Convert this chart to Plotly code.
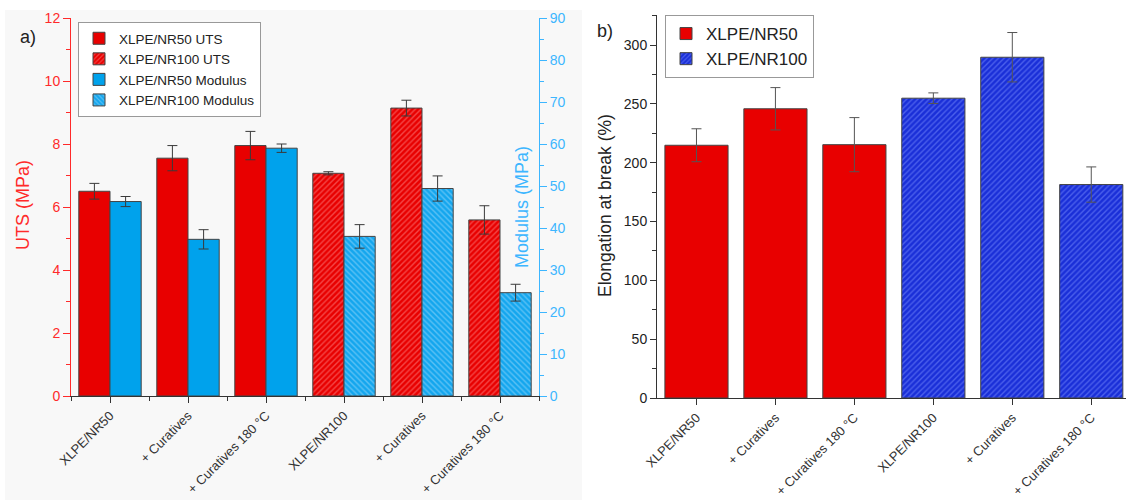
import plotly.graph_objects as go

# ---------------- data ----------------
categories = ["XLPE/NR50", "+ Curatives", "+ Curatives 180 °C",
              "XLPE/NR100", "+ Curatives", "+ Curatives 180 °C"]

uts_nr50 = [6.5, 7.55, 7.95]
uts_nr50_err = [0.25, 0.4, 0.45]
uts_nr100 = [7.07, 9.14, 5.59]
uts_nr100_err = [0.05, 0.25, 0.45]

mod_nr50 = [46.3, 37.3, 59.0]
mod_nr50_err = [1.2, 2.3, 1.0]
mod_nr100 = [38.0, 49.4, 24.6]
mod_nr100_err = [2.8, 3.0, 2.0]

elong_nr50 = [214.8, 245.8, 215.3]
elong_nr50_err = [14.0, 18.0, 23.0]
elong_nr100 = [254.8, 289.6, 181.4]
elong_nr100_err = [4.5, 21.0, 15.0]

pos = list(range(len(categories)))
pos50 = pos[:3]
pos100 = pos[3:]

FONT = "Liberation Sans, Arial, sans-serif"
RED = "#e80000"
RED_AX = "#ff2a2a"
BLUE = "#00a2ec"
BLUE_AX = "#3db6ff"
DBLUE = "#1a2fd8"
EDGE = "#444444"
W, H = 1126, 500


def err(arr, color="#3a3a3a"):
    return dict(type="data", array=arr, color=color, thickness=1, width=5)


fig = go.Figure()

# ---------------- left panel ----------------
fig.add_trace(go.Bar(x=pos50, y=uts_nr50, error_y=err(uts_nr50_err),
                     width=0.4, offset=-0.4, xaxis="x", yaxis="y",
                     name="XLPE/NR50 UTS", legend="legend",
                     marker=dict(color=RED, line=dict(color=EDGE, width=1))))
fig.add_trace(go.Bar(x=pos100, y=uts_nr100, error_y=err(uts_nr100_err),
                     width=0.4, offset=-0.4, xaxis="x", yaxis="y",
                     name="XLPE/NR100 UTS", legend="legend",
                     marker=dict(color=RED, line=dict(color=EDGE, width=1),
                                 pattern=dict(shape="/", fgcolor="#ff9090",
                                              size=4, solidity=0.35,
                                              fillmode="overlay"))))
fig.add_trace(go.Bar(x=pos50, y=mod_nr50, error_y=err(mod_nr50_err),
                     width=0.4, offset=0, xaxis="x", yaxis="y2",
                     name="XLPE/NR50 Modulus", legend="legend",
                     marker=dict(color=BLUE, line=dict(color=EDGE, width=1))))
fig.add_trace(go.Bar(x=pos100, y=mod_nr100, error_y=err(mod_nr100_err),
                     width=0.4, offset=0, xaxis="x", yaxis="y2",
                     name="XLPE/NR100 Modulus", legend="legend",
                     marker=dict(color="#14a6ee", line=dict(color=EDGE, width=1),
                                 pattern=dict(shape="\\", fgcolor="#a6dcfa",
                                              size=4, solidity=0.35,
                                              fillmode="overlay"))))

# ---------------- right panel ----------------
fig.add_trace(go.Bar(x=pos50, y=elong_nr50, error_y=err(elong_nr50_err, "#555555"),
                     width=0.8, offset=-0.4, xaxis="x2", yaxis="y3",
                     name="XLPE/NR50", legend="legend2",
                     marker=dict(color=RED, line=dict(color=EDGE, width=1))))
fig.add_trace(go.Bar(x=pos100, y=elong_nr100, error_y=err(elong_nr100_err, "#555555"),
                     width=0.8, offset=-0.4, xaxis="x2", yaxis="y3",
                     name="XLPE/NR100", legend="legend2",
                     marker=dict(color=DBLUE, line=dict(color=EDGE, width=1),
                                 pattern=dict(shape="/", fgcolor="#7d92ff",
                                              size=4, solidity=0.35,
                                              fillmode="overlay"))))

half_ticks = [p + 0.5 for p in [-1] + pos]

xcommon = dict(tickmode="array", tickvals=pos, ticktext=categories,
               tickangle=-45, ticks="outside", ticklen=6, tickcolor="#333",
               showline=True, linecolor="#333", linewidth=1,
               showgrid=False, zeroline=False, automargin=False,
               tickfont=dict(family=FONT, size=13, color="#333"))

fig.update_layout(
    width=W, height=H,
    margin=dict(l=0, r=0, t=0, b=0),
    paper_bgcolor="white", plot_bgcolor="rgba(0,0,0,0)",
    font=dict(family=FONT),
    showlegend=True,
    xaxis=dict(domain=[71 / W, 539 / W], anchor="y", range=[-0.5, 5.5],
               minor=dict(tickvals=half_ticks, ticklen=4, ticks="outside",
                          tickcolor="#333"),
               **xcommon),
    yaxis=dict(domain=[1 - 396 / H, 1 - 18 / H], anchor="x", range=[0, 12],
               dtick=2, tick0=0, ticks="outside", ticklen=7, tickcolor=RED_AX,
               minor=dict(dtick=1, ticklen=4, ticks="outside", tickcolor=RED_AX),
               showline=True, linecolor=RED_AX, linewidth=1,
               showgrid=False, zeroline=False, automargin=False,
               tickfont=dict(family=FONT, size=14, color=RED_AX)),
    yaxis2=dict(overlaying="y", side="right", anchor="x", range=[0, 90],
                dtick=10, tick0=0, ticks="outside", ticklen=7, tickcolor=BLUE_AX,
                minor=dict(dtick=5, ticklen=4, ticks="outside", tickcolor=BLUE_AX),
                showline=True, linecolor=BLUE_AX, linewidth=1,
                showgrid=False, zeroline=False, automargin=False,
                tickfont=dict(family=FONT, size=14, color=BLUE_AX)),
    xaxis2=dict(domain=[657 / W, 1.0], anchor="y3", range=[-0.5, 5.44],
                **xcommon),
    yaxis3=dict(domain=[1 - 398 / H, 1 - 15 / H], anchor="x2", range=[0, 325.5],
                dtick=50, tick0=0, ticks="outside", ticklen=6, tickcolor="#333",
                minor=dict(dtick=25, ticklen=4, ticks="outside", tickcolor="#333"),
                showline=True, linecolor="#333", linewidth=1,
                showgrid=False, zeroline=False, automargin=False,
                tickfont=dict(family=FONT, size=14, color="#222")),
    legend=dict(x=78 / W, y=1 - 22 / H, xanchor="left", yanchor="top",
                bgcolor="white", bordercolor="#999", borderwidth=1,
                font=dict(family=FONT, size=13.5, color="#222"),
                tracegroupgap=0, itemwidth=30),
    legend2=dict(x=665 / W, y=1 - 15 / H, xanchor="left", yanchor="top",
                 bgcolor="white", bordercolor="#999", borderwidth=1,
                 font=dict(family=FONT, size=17, color="#222"),
                 tracegroupgap=0, itemwidth=30),
    shapes=[dict(type="rect", xref="paper", yref="paper", layer="below",
                 x0=5 / W, x1=582 / W, y0=0, y1=1 - 10 / H,
                 fillcolor="#f8f8f8", line=dict(width=0))],
    annotations=[
        dict(text="a)", x=18 / W, y=1 - 37 / H, xref="paper", yref="paper",
             xanchor="left", yanchor="middle", showarrow=False,
             font=dict(family=FONT, size=18, color="#222")),
        dict(text="b)", x=595 / W, y=1 - 31 / H, xref="paper", yref="paper",
             xanchor="left", yanchor="middle", showarrow=False,
             font=dict(family=FONT, size=18, color="#222")),
        dict(text="UTS (MPa)", x=23 / W, y=1 - 205 / H, xref="paper", yref="paper",
             xanchor="center", yanchor="middle", textangle=-90, showarrow=False,
             font=dict(family=FONT, size=18, color=RED_AX)),
        dict(text="Modulus (MPa)", x=522 / W, y=1 - 207 / H, xref="paper", yref="paper",
             xanchor="center", yanchor="middle", textangle=-90, showarrow=False,
             font=dict(family=FONT, size=18, color=BLUE_AX)),
        dict(text="Elongation at break (%)", x=605 / W, y=1 - 206 / H,
             xref="paper", yref="paper", xanchor="center", yanchor="middle",
             textangle=-90, showarrow=False,
             font=dict(family=FONT, size=17.5, color="#222")),
    ],
)

fig.write_html("out.html",
               config={"displayModeBar": False},
               post_script="document.body.style.margin='0';"
                           "document.body.style.overflow='hidden';")
